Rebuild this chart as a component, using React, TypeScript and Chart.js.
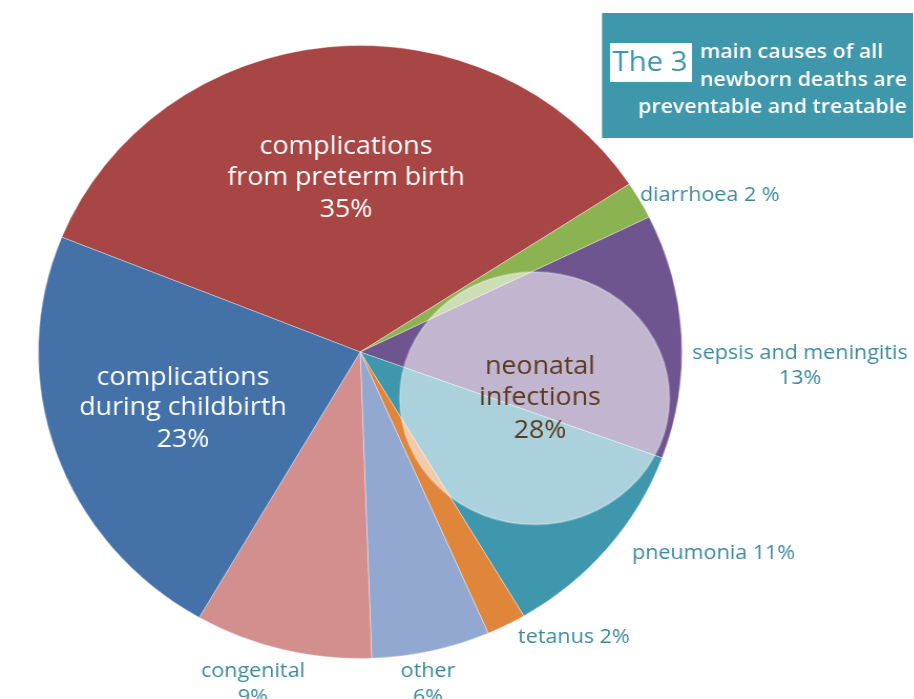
import React, { useEffect, useRef } from 'react';
import { Chart, registerables } from 'chart.js';

Chart.register(...registerables);

// ---- data ----
const categories = [
  'complications from preterm birth',
  'diarrhoea',
  'sepsis and meningitis',
  'pneumonia',
  'tetanus',
  'other',
  'congenital',
  'complications during childbirth',
];
const values = [35, 2, 13, 11, 2, 6, 9, 23];
const colors = ['#a84545', '#8cb352', '#6f5590', '#3e97ad', '#df863b', '#93a8d1', '#d38e8e', '#4371a8'];
const neonatalShare = 28;
const titleLines = ['main causes of all', 'newborn deaths are', 'preventable and treatable'];

// ---- layout ----
const SX = 1.05; // horizontal stretch of the picture
const W = 870;
const H = 699;
const FONT = '"Open Sans", "Noto Sans", sans-serif';
const TEAL_TXT = '#3a8a9b';

type Lbl = { lines: string[]; x: number; y: number[]; color: string; size: number; align: CanvasTextAlign; weight?: number };

const labels: Lbl[] = [
  { lines: ['complications', 'from preterm birth', `${values[0]}%`], x: 346, y: [147, 178, 210], color: '#ffffff', size: 25.5, align: 'center', weight: 500 },
  { lines: ['complications', 'during childbirth', `${values[7]}%`], x: 183, y: [378, 408, 440], color: '#ffffff', size: 25.5, align: 'center', weight: 500 },
  { lines: ['neonatal', 'infections', `${neonatalShare}%`], x: 540, y: [367, 398, 431], color: '#5a3a1f', size: 25.5, align: 'center', weight: 500 },
  { lines: [`diarrhoea ${values[1]} %`], x: 640, y: [195], color: TEAL_TXT, size: 20.5, align: 'left', weight: 500 },
  { lines: ['sepsis and meningitis', `${values[2]}%`], x: 800, y: [353, 378], color: TEAL_TXT, size: 20.5, align: 'center', weight: 500 },
  { lines: [`pneumonia ${values[3]}%`], x: 632, y: [553], color: TEAL_TXT, size: 20.5, align: 'left', weight: 500 },
  { lines: [`tetanus ${values[4]}%`], x: 518, y: [637], color: TEAL_TXT, size: 20.5, align: 'left', weight: 500 },
  { lines: ['congenital', `${values[6]}%`], x: 253, y: [671, 697], color: TEAL_TXT, size: 20.5, align: 'center', weight: 500 },
  { lines: ['other', `${values[5]}%`], x: 428, y: [671, 697], color: TEAL_TXT, size: 20.5, align: 'center', weight: 500 },
];

const overlayPlugin = {
  id: 'overlay',
  afterDatasetsDraw(chart: any) {
    const ctx: CanvasRenderingContext2D = chart.ctx;
    const arc = chart.getDatasetMeta(0).data[0] as any;
    if (!arc) return;
    const cx = arc.x;
    const cy = arc.y;
    const r = arc.outerRadius;
    ctx.save();
    // translucent circle for neonatal infections
    ctx.beginPath();
    ctx.ellipse(cx + 0.542 * r, cy + 0.151 * r, 0.419 * r, 0.412 * r, 0, 0, Math.PI * 2);
    ctx.fillStyle = 'rgba(255,255,255,0.57)';
    ctx.fill();
    ctx.lineWidth = 2;
    ctx.strokeStyle = 'rgba(255,255,255,0.25)';
    ctx.stroke();

    // labels
    ctx.textBaseline = 'middle';
    for (const l of labels) {
      ctx.font = `${l.weight || 400} ${l.size}px ${FONT}`;
      ctx.fillStyle = l.color;
      ctx.textAlign = l.align;
      l.lines.forEach((t, i) => ctx.fillText(t, l.x / SX, l.y[i]));
    }

    // title box
    ctx.fillStyle = '#3f97ab';
    ctx.fillRect(602 / SX, 13, (914 - 602) / SX, 125);
    ctx.fillStyle = '#ffffff';
    ctx.fillRect(610 / SX, 43, 82 / SX, 39);
    ctx.fillStyle = '#3f97ab';
    ctx.font = `500 28px ${FONT}`;
    ctx.textAlign = 'center';
    ctx.fillText('The 3', 650 / SX, 63);
    ctx.fillStyle = '#ffffff';
    ctx.font = `600 20.3px ${FONT}`;
    ctx.textAlign = 'left';
    ctx.fillText(titleLines[0], 700 / SX, 52);
    ctx.fillText(titleLines[1], 700 / SX, 80);
    ctx.textAlign = 'right';
    ctx.fillText(titleLines[2], 907 / SX, 107);
    ctx.restore();
  },
};

export default function App() {
  const ref = useRef<HTMLCanvasElement>(null);
  useEffect(() => {
    if (!ref.current) return;
    const chart = new Chart(ref.current, {
      type: 'pie',
      data: {
        labels: categories,
        datasets: [
          {
            data: values,
            backgroundColor: colors,
            borderColor: 'rgba(255,255,255,0.35)',
            borderWidth: 1,
          },
        ],
      },
      options: {
        responsive: false,
        animation: false,
        rotation: 292,
        layout: { padding: { left: 36, top: 45, right: W - 36 - 614, bottom: H - 45 - 614 } },
        plugins: { legend: { display: false }, tooltip: { enabled: false } },
      },
      plugins: [overlayPlugin],
    });
    return () => chart.destroy();
  }, []);
  return (
    <div style={{ position: 'fixed', left: 0, top: 0, width: 914, height: 699, overflow: 'hidden', background: '#fff' }}>
      <canvas
        ref={ref}
        width={W}
        height={H}
        style={{ width: W, height: H, transform: `scaleX(${SX})`, transformOrigin: '0 0', display: 'block' }}
      />
    </div>
  );
}
